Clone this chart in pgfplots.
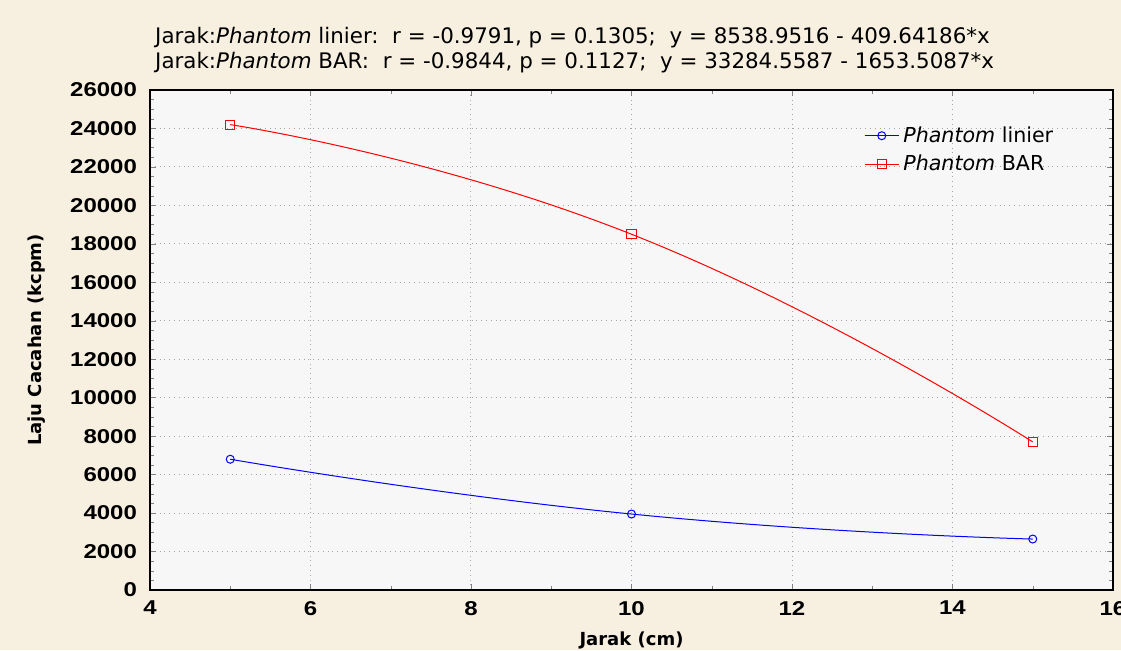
\documentclass[border=0pt]{standalone}
\usepackage{pgfplots}
\pgfplotsset{compat=1.18}
\usepackage{fontspec}
\setmainfont{Liberation Sans}
\newfontfamily\tickfont[FakeStretch=1.2]{Liberation Sans}
\newfontfamily\labfont{DejaVu Sans}
\definecolor{bgcream}{RGB}{247,239,224}
\definecolor{plotbg}{RGB}{247,247,247}
\begin{document}
\begin{tikzpicture}
  % picture frame: 1121x650 px at 0.5pt per px
  \clip (-75pt,-30pt) rectangle (485.5pt,295pt);
  \fill[bgcream] (-75pt,-30pt) rectangle (485.5pt,295pt);
  \begin{axis}[
    at={(0,0)}, anchor=south west,
    scale only axis,
    width=481.5pt, height=250pt,
    xmin=4, xmax=16, ymin=0, ymax=26000,
    xtick={4,6,...,16},
    ytick={0,2000,...,26000},
    minor x tick num=1,
    minor y tick num=3,
    tick align=inside,
    major tick length=3pt, minor tick length=2pt,
    scaled y ticks=false,
    /pgf/number format/assume math mode=true,
    yticklabel={\pgfmathprintnumber[fixed,1000 sep={}]{\tick}},
    ticklabel style={font=\tickfont\fontsize{10}{12}\selectfont\bfseries},
    yticklabel style={xshift=-3pt},
    xticklabel style={yshift=-2pt},
    axis background/.style={fill=plotbg},
    axis line style={line width=0.9pt},
    grid=major,
    major grid style={gray!70, dotted, line width=0.5pt},
    xlabel={\bfseries Jarak (cm)},
    ylabel={\bfseries Laju Cacahan (kcpm)},
    label style={font=\labfont\fontsize{9}{11}\selectfont},
    xlabel style={yshift=-1.5pt},
    ylabel style={yshift=5.5pt},
    legend style={at={(0.735,0.944)}, anchor=north west, draw=none, fill=none,
      font=\labfont\fontsize{10.3}{12}\selectfont, row sep=1pt},
    legend cell align=left,
    clip=false,
  ]
  \addplot[blue, mark=o, mark size=2pt, smooth, tension=0.9, line width=0.5pt] coordinates {
    (5,6800) (10,3950) (15,2650)
  };
  \addplot[red, mark=square, mark size=2.3pt, smooth, tension=0.9, line width=0.5pt] coordinates {
    (5,24200) (10,18500) (15,7700)
  };
  \legend{\textit{Phantom} linier, \textit{Phantom} BAR}
  \node[anchor=west, font=\labfont\fontsize{10.7}{12}\selectfont, inner sep=0pt]
    at ([yshift=26pt]rel axis cs:0.005,1)
    {Jarak:\textit{Phantom} linier:\ \ r = -0.9791, p = 0.1305;\ \ y = 8538.9516 - 409.64186*x};
  \node[anchor=west, font=\labfont\fontsize{10.7}{12}\selectfont, inner sep=0pt]
    at ([yshift=13.5pt]rel axis cs:0.005,1)
    {Jarak:\textit{Phantom} BAR:\ \ r = -0.9844, p = 0.1127;\ \ y = 33284.5587 - 1653.5087*x};
  \end{axis}
\end{tikzpicture}
\end{document}
